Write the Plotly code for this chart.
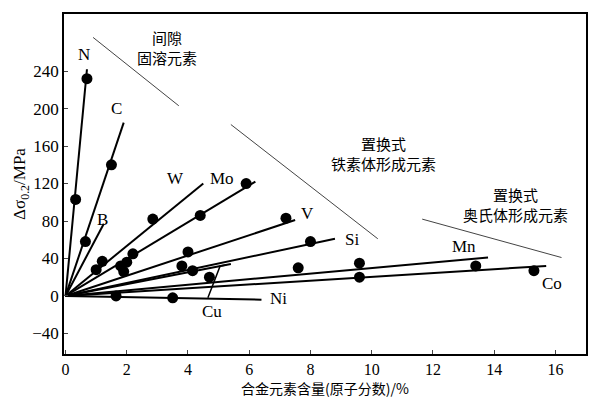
import plotly.graph_objects as go

# line end points (lines start at origin)
elements = ["N", "C", "B", "W", "Mo", "V", "Si", "Cu", "Mn", "Co", "Ni"]
end_x = [0.7, 1.9, 1.25, 4.5, 6.2, 7.5, 8.8, 5.4, 13.8, 15.7, 6.4]
end_y = [242, 185, 77, 120, 122, 81, 61, 34, 41, 32, -4]

# measured points
pt_x = [0.33, 0.7, 0.65, 1.5, 1.2, 2.85, 1.0, 4.4, 5.9, 7.2, 2.2, 4.0, 8.0, 2.0,
        1.8, 1.9, 3.8, 4.15, 4.7, 7.6, 9.6, 13.4, 9.6, 15.3, 1.65, 3.5]
pt_y = [103, 232, 58, 140, 37, 82, 28, 86, 120, 83, 45, 47, 58, 36,
        32, 26, 32, 27, 20, 30, 35, 32, 20, 27, 0, -2]

label_x = [0.6, 1.65, 1.2, 3.6, 5.1, 7.9, 9.35, 4.8, 13.0, 15.9, 6.95]
label_y = [258, 200, 82, 125, 125, 88, 60, -17, 53, 13, -3]

fig = go.Figure()
for e, x, y in zip(elements, end_x, end_y):
    fig.add_trace(go.Scatter(x=[0, x], y=[0, y], mode="lines",
                             line=dict(color="black", width=2), showlegend=False))
fig.add_trace(go.Scatter(x=pt_x, y=pt_y, mode="markers",
                         marker=dict(color="black", size=11), showlegend=False))

# pointer line for Cu
fig.add_trace(go.Scatter(x=[4.65, 5.05, 5.25], y=[-2, 32, 33], mode="lines",
                         line=dict(color="black", width=1.5), showlegend=False))

# group brackets
brackets = [([0.9, 3.7], [276, 203]), ([5.4, 10.2], [183, 61]), ([11.65, 16.2], [82, 41])]
for bx, by in brackets:
    fig.add_trace(go.Scatter(x=bx, y=by, mode="lines",
                             line=dict(color="#444", width=1), showlegend=False))

for e, x, y in zip(elements, label_x, label_y):
    fig.add_annotation(x=x, y=y, text=e, showarrow=False,
                       font=dict(family="Liberation Serif", size=17, color="black"))

cjk = dict(family="Noto Sans CJK SC", size=15, color="black")
fig.add_annotation(x=3.3, y=265, text="间隙<br>固溶元素", showarrow=False, font=cjk)
fig.add_annotation(x=10.4, y=152, text="置换式<br>铁素体形成元素", showarrow=False, font=cjk)
fig.add_annotation(x=14.7, y=98, text="置换式<br>奥氏体形成元素", showarrow=False, font=cjk)

# x axis title as annotation
fig.add_annotation(x=0.5, y=0, xref="paper", yref="paper", yshift=-22,
                   yanchor="top", text="合金元素含量(原子分数)/%", showarrow=False,
                   font=dict(family="Noto Sans CJK SC", size=14, color="black"))

axis_font = dict(family="Liberation Serif", size=16, color="black")
fig.update_layout(
    width=592, height=393,
    margin=dict(l=56, r=14, t=4, b=47),
    plot_bgcolor="white", paper_bgcolor="white",
    xaxis=dict(range=[-0.05, 17], tickvals=[0, 2, 4, 6, 8, 10, 12, 14, 16],
               showgrid=False, zeroline=False, showline=True, mirror=True,
               linecolor="black", linewidth=1.5, ticks="inside", ticklen=4,
               tickfont=axis_font),
    yaxis=dict(range=[-62, 301], tickvals=[-40, 0, 40, 80, 120, 160, 200, 240],
               showgrid=False, zeroline=False, showline=True, mirror=True,
               linecolor="black", linewidth=1.5, ticks="inside", ticklen=4,
               tickfont=dict(family="Liberation Serif", size=17, color="black"),
               title=dict(text="Δσ<sub>0.2</sub>/MPa", standoff=2,
                          font=dict(family="Liberation Serif", size=17, color="black"))),
)

fig.write_html("out.html")
